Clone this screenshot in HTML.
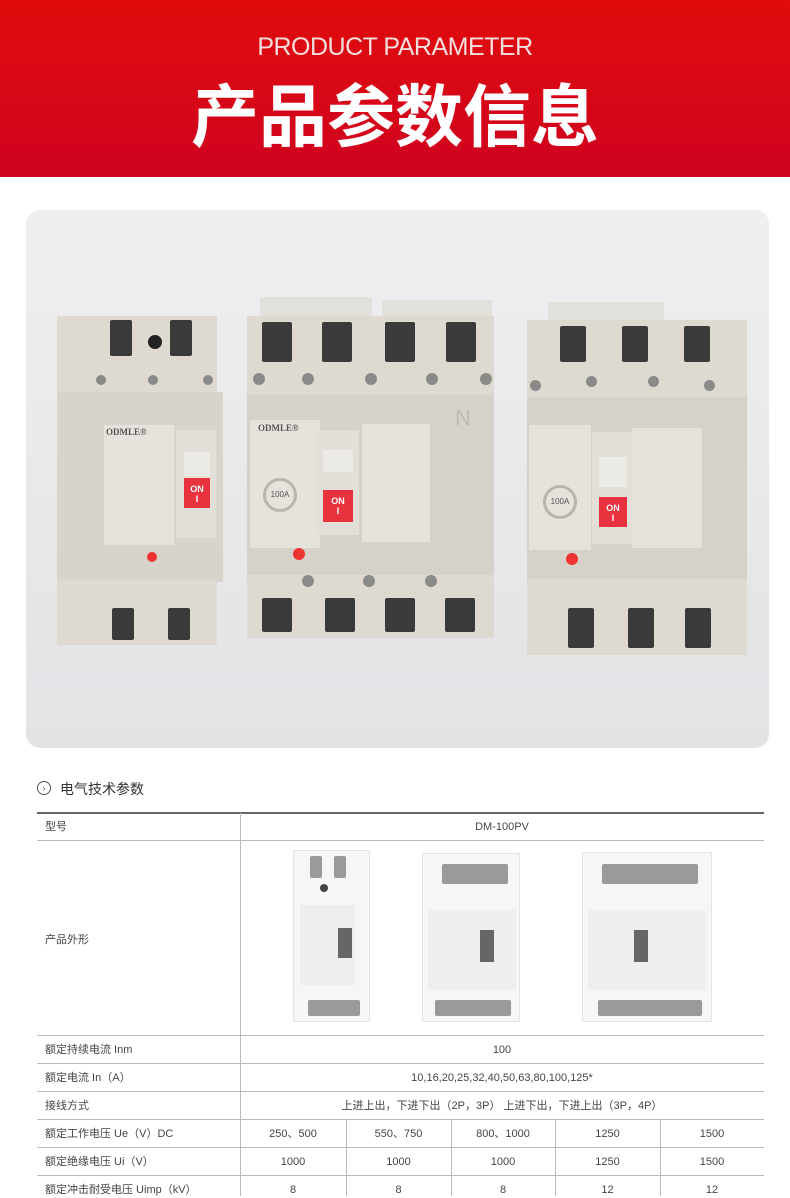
<!DOCTYPE html>
<html><head><meta charset="utf-8"><style>
*{margin:0;padding:0;box-sizing:border-box}
body{width:790px;height:1196px;overflow:hidden;background:#fff;font-family:"Liberation Sans","Noto Sans CJK SC",sans-serif;position:relative}
.a{position:absolute}
.hdr{left:0;top:0;width:790px;height:177px;background:linear-gradient(#e00c0c,#cf0320)}
.en{left:0;width:790px;top:33px;text-align:center;color:#f4dede;font-size:25px;letter-spacing:-0.5px}
.cn{left:0;width:790px;top:62px;text-align:center;color:#fff;font-size:68px;font-weight:bold;letter-spacing:0px;font-family:"Noto Sans CJK SC",sans-serif}
.panel{left:26px;top:210px;width:743px;height:538px;border-radius:14px;background:linear-gradient(#efeff1,#e3e3e6)}
.b{background:#dedad2}
.d{background:#3a3a3a;border-radius:2px}
.s{background:#8a8a88;border-radius:50%}
.lab{background:#e6e3dc}
.on{background:#e8323e;color:#fff;font-size:9px;font-weight:bold;text-align:center}
.t{font-size:11px;color:#444;line-height:16px}
.ln{background:#bbb;height:1px}
.vl{background:#bbb;width:1px}
.c{text-align:center}
.sm{background:#f6f6f6;border:1px solid #e4e4e4}
.g{background:#9a9a9a;border-radius:2px}
</style></head><body>
<div class="a hdr"></div>
<div class="a en">PRODUCT PARAMETER</div>
<div class="a cn">产品参数信息</div>
<div class="a panel"></div>

<!-- left breaker -->
<div class="a b" style="left:57px;top:316px;width:160px;height:80px"></div>
<div class="a d" style="left:110px;top:320px;width:22px;height:36px"></div>
<div class="a d" style="left:170px;top:320px;width:22px;height:36px"></div>
<div class="a s" style="left:148px;top:335px;width:14px;height:14px;background:#222"></div>
<div class="a s" style="left:96px;top:375px;width:10px;height:10px"></div>
<div class="a s" style="left:148px;top:375px;width:10px;height:10px"></div>
<div class="a s" style="left:203px;top:375px;width:10px;height:10px"></div>
<div class="a b" style="left:57px;top:392px;width:166px;height:190px;background:#d8d4cb"></div>
<div class="a lab" style="left:104px;top:425px;width:70px;height:120px"></div>
<div class="a" style="left:106px;top:427px;font-size:9px;font-weight:bold;color:#555;font-family:'Liberation Serif',serif">ODMLE®</div>
<div class="a lab" style="left:176px;top:430px;width:40px;height:108px;background:#e2dfd8"></div>
<div class="a on" style="left:184px;top:478px;width:26px;height:30px;padding-top:6px">ON<br>I</div>
<div class="a" style="left:184px;top:452px;width:26px;height:24px;background:#eceae4"></div>
<div class="a s" style="left:147px;top:552px;width:10px;height:10px;background:#e33"></div>
<div class="a b" style="left:57px;top:580px;width:160px;height:65px"></div>
<div class="a d" style="left:112px;top:608px;width:22px;height:32px"></div>
<div class="a d" style="left:168px;top:608px;width:22px;height:32px"></div>

<!-- middle breaker -->
<div class="a b" style="left:260px;top:297px;width:112px;height:22px;background:#e2e0db"></div>
<div class="a b" style="left:382px;top:300px;width:110px;height:20px;background:#e2e0db"></div>
<div class="a b" style="left:247px;top:316px;width:247px;height:322px"></div>
<div class="a d" style="left:262px;top:322px;width:30px;height:40px"></div>
<div class="a d" style="left:322px;top:322px;width:30px;height:40px"></div>
<div class="a d" style="left:385px;top:322px;width:30px;height:40px"></div>
<div class="a d" style="left:446px;top:322px;width:30px;height:40px"></div>
<div class="a s" style="left:253px;top:373px;width:12px;height:12px"></div>
<div class="a s" style="left:302px;top:373px;width:12px;height:12px"></div>
<div class="a s" style="left:365px;top:373px;width:12px;height:12px"></div>
<div class="a s" style="left:426px;top:373px;width:12px;height:12px"></div>
<div class="a s" style="left:480px;top:373px;width:12px;height:12px"></div>
<div class="a" style="left:247px;top:395px;width:247px;height:180px;background:#d6d2c9"></div>
<div class="a lab" style="left:250px;top:420px;width:70px;height:128px"></div>
<div class="a" style="left:258px;top:423px;font-size:9px;font-weight:bold;color:#555;font-family:'Liberation Serif',serif">ODMLE®</div>
<div class="a" style="left:263px;top:478px;width:34px;height:34px;border:3px solid #b9b6ae;border-radius:50%;font-size:8px;color:#555;text-align:center;line-height:28px">100A</div>
<div class="a lab" style="left:362px;top:424px;width:68px;height:118px"></div>
<div class="a" style="left:455px;top:405px;font-size:22px;color:#bfbbb2">N</div>
<div class="a lab" style="left:317px;top:430px;width:42px;height:105px;background:#e2dfd8"></div>
<div class="a" style="left:323px;top:450px;width:30px;height:22px;background:#eceae4"></div>
<div class="a on" style="left:323px;top:490px;width:30px;height:32px;padding-top:6px">ON<br>I</div>
<div class="a s" style="left:293px;top:548px;width:12px;height:12px;background:#e33"></div>
<div class="a s" style="left:302px;top:575px;width:12px;height:12px"></div>
<div class="a s" style="left:363px;top:575px;width:12px;height:12px"></div>
<div class="a s" style="left:425px;top:575px;width:12px;height:12px"></div>
<div class="a d" style="left:262px;top:598px;width:30px;height:34px"></div>
<div class="a d" style="left:325px;top:598px;width:30px;height:34px"></div>
<div class="a d" style="left:385px;top:598px;width:30px;height:34px"></div>
<div class="a d" style="left:445px;top:598px;width:30px;height:34px"></div>

<!-- right breaker -->
<div class="a b" style="left:548px;top:302px;width:116px;height:22px;background:#e2e0db"></div>
<div class="a b" style="left:527px;top:320px;width:220px;height:335px"></div>
<div class="a d" style="left:560px;top:326px;width:26px;height:36px"></div>
<div class="a d" style="left:622px;top:326px;width:26px;height:36px"></div>
<div class="a d" style="left:684px;top:326px;width:26px;height:36px"></div>
<div class="a s" style="left:530px;top:380px;width:11px;height:11px"></div>
<div class="a s" style="left:586px;top:376px;width:11px;height:11px"></div>
<div class="a s" style="left:648px;top:376px;width:11px;height:11px"></div>
<div class="a s" style="left:704px;top:380px;width:11px;height:11px"></div>
<div class="a" style="left:527px;top:397px;width:220px;height:182px;background:#d6d2c9"></div>
<div class="a lab" style="left:529px;top:425px;width:62px;height:125px"></div>
<div class="a lab" style="left:632px;top:428px;width:70px;height:120px"></div>
<div class="a" style="left:543px;top:485px;width:34px;height:34px;border:3px solid #b9b6ae;border-radius:50%;font-size:8px;color:#555;text-align:center;line-height:28px">100A</div>
<div class="a lab" style="left:592px;top:432px;width:40px;height:112px;background:#e2dfd8"></div>
<div class="a" style="left:599px;top:457px;width:28px;height:30px;background:#eceae4"></div>
<div class="a on" style="left:599px;top:497px;width:28px;height:30px;padding-top:6px">ON<br>I</div>
<div class="a s" style="left:566px;top:553px;width:12px;height:12px;background:#e33"></div>
<div class="a d" style="left:568px;top:608px;width:26px;height:40px"></div>
<div class="a d" style="left:628px;top:608px;width:26px;height:40px"></div>
<div class="a d" style="left:685px;top:608px;width:26px;height:40px"></div>

<!-- section title -->
<div class="a" style="left:37px;top:781px;width:14px;height:14px;border:1px solid #555;border-radius:50%;font-size:9px;line-height:12px;text-align:center;color:#555">›</div>
<div class="a" style="left:60px;top:779px;font-size:14px;color:#333">电气技术参数</div>

<!-- table -->
<div class="a" style="left:37px;top:812px;width:727px;height:2px;background:#666"></div>
<div class="a ln" style="left:37px;top:840px;width:727px"></div>
<div class="a ln" style="left:37px;top:1035px;width:727px"></div>
<div class="a ln" style="left:37px;top:1063px;width:727px"></div>
<div class="a ln" style="left:37px;top:1091px;width:727px"></div>
<div class="a ln" style="left:37px;top:1119px;width:727px"></div>
<div class="a ln" style="left:37px;top:1147px;width:727px"></div>
<div class="a ln" style="left:37px;top:1175px;width:727px"></div>
<div class="a vl" style="left:240px;top:813px;height:383px"></div>
<div class="a vl" style="left:346px;top:1119px;height:77px"></div>
<div class="a vl" style="left:451px;top:1119px;height:77px"></div>
<div class="a vl" style="left:555px;top:1119px;height:77px"></div>
<div class="a vl" style="left:660px;top:1119px;height:77px"></div>

<div class="a t" style="left:45px;top:819px">型号</div>
<div class="a t c" style="left:240px;width:524px;top:819px">DM-100PV</div>
<div class="a t" style="left:45px;top:932px">产品外形</div>
<div class="a t" style="left:45px;top:1042px">额定持续电流 Inm</div>
<div class="a t c" style="left:240px;width:524px;top:1042px">100</div>
<div class="a t" style="left:45px;top:1070px">额定电流 In（A）</div>
<div class="a t c" style="left:240px;width:524px;top:1070px">10,16,20,25,32,40,50,63,80,100,125*</div>
<div class="a t" style="left:45px;top:1098px">接线方式</div>
<div class="a t c" style="left:240px;width:524px;top:1098px">上进上出，下进下出（2P，3P） 上进下出，下进上出（3P，4P）</div>
<div class="a t" style="left:45px;top:1126px">额定工作电压 Ue（V）DC</div>
<div class="a t" style="left:45px;top:1154px">额定绝缘电压 Ui（V）</div>
<div class="a t" style="left:45px;top:1182px">额定冲击耐受电压 Uimp（kV）</div>
<div class="a t c" style="left:240px;width:106px;top:1126px">250、500</div>
<div class="a t c" style="left:346px;width:105px;top:1126px">550、750</div>
<div class="a t c" style="left:451px;width:104px;top:1126px">800、1000</div>
<div class="a t c" style="left:555px;width:105px;top:1126px">1250</div>
<div class="a t c" style="left:660px;width:104px;top:1126px">1500</div>
<div class="a t c" style="left:240px;width:106px;top:1154px">1000</div>
<div class="a t c" style="left:346px;width:105px;top:1154px">1000</div>
<div class="a t c" style="left:451px;width:104px;top:1154px">1000</div>
<div class="a t c" style="left:555px;width:105px;top:1154px">1250</div>
<div class="a t c" style="left:660px;width:104px;top:1154px">1500</div>
<div class="a t c" style="left:240px;width:106px;top:1182px">8</div>
<div class="a t c" style="left:346px;width:105px;top:1182px">8</div>
<div class="a t c" style="left:451px;width:104px;top:1182px">8</div>
<div class="a t c" style="left:555px;width:105px;top:1182px">12</div>
<div class="a t c" style="left:660px;width:104px;top:1182px">12</div>

<!-- small product images -->
<div class="a sm" style="left:293px;top:850px;width:77px;height:172px"></div>
<div class="a g" style="left:310px;top:856px;width:12px;height:22px"></div>
<div class="a g" style="left:334px;top:856px;width:12px;height:22px"></div>
<div class="a s" style="left:320px;top:884px;width:8px;height:8px;background:#444"></div>
<div class="a" style="left:300px;top:905px;width:55px;height:80px;background:#eee"></div>
<div class="a" style="left:338px;top:928px;width:14px;height:30px;background:#666"></div>
<div class="a g" style="left:308px;top:1000px;width:52px;height:16px"></div>
<div class="a sm" style="left:422px;top:853px;width:98px;height:169px"></div>
<div class="a g" style="left:442px;top:864px;width:66px;height:20px"></div>
<div class="a" style="left:428px;top:910px;width:88px;height:80px;background:#eee"></div>
<div class="a" style="left:480px;top:930px;width:14px;height:32px;background:#666"></div>
<div class="a g" style="left:435px;top:1000px;width:76px;height:16px"></div>
<div class="a sm" style="left:582px;top:852px;width:130px;height:170px"></div>
<div class="a g" style="left:602px;top:864px;width:96px;height:20px"></div>
<div class="a" style="left:588px;top:910px;width:118px;height:80px;background:#eee"></div>
<div class="a" style="left:634px;top:930px;width:14px;height:32px;background:#666"></div>
<div class="a g" style="left:598px;top:1000px;width:104px;height:16px"></div>
</body></html>
